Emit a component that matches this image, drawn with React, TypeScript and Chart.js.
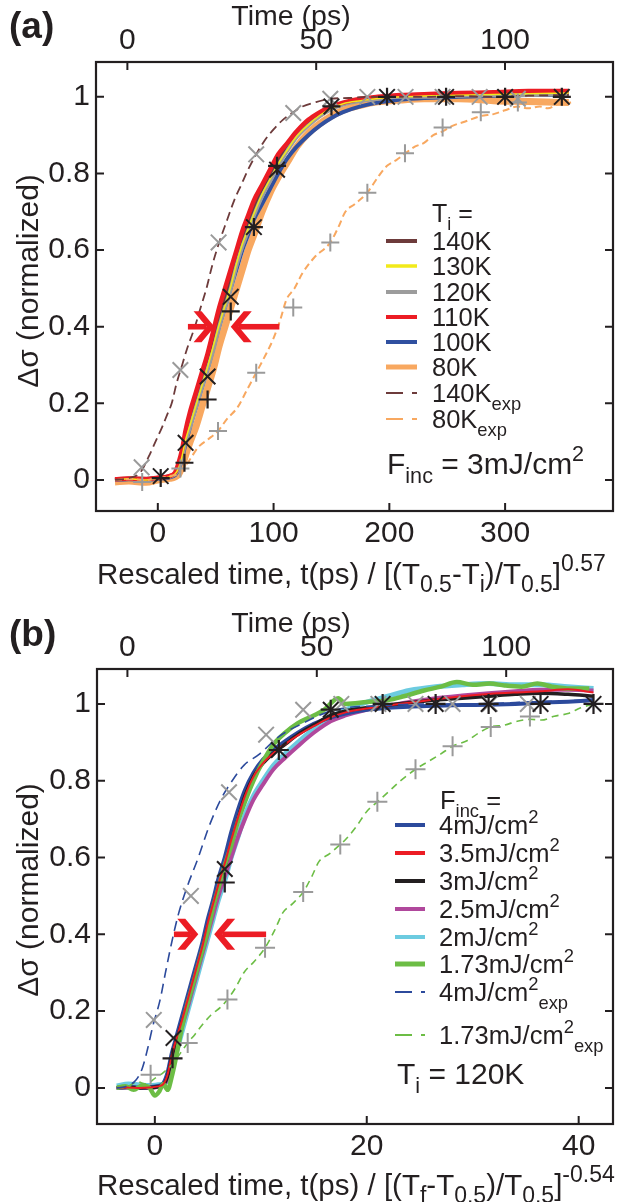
import React, { useEffect, useRef } from 'react';
import { Chart, registerables } from 'chart.js';
Chart.register(...registerables);

const FONT = '"Liberation Sans", Arial, Helvetica, sans-serif';
const INK = '#231f20';
const RED = '#ec1c24';
const GRAYM = '#9a9a9a';

// ---------- shared axis ticks ----------
const yTicks = [0, 0.2, 0.4, 0.6, 0.8, 1];
const yTickLabels = ['0', '0.2', '0.4', '0.6', '0.8', '1'];
const topTicks = [0, 50, 100];
const aBottomTicks = [0, 100, 200, 300];
const bBottomTicks = [0, 20, 40];

// ---------- panel (a) data ----------
const aX = [-37, -25, -10, 0, 10, 15, 18, 21, 24, 28, 33, 38, 43, 48, 53, 58, 63, 68, 73, 78, 83, 90, 97, 104, 112, 120, 130, 140, 150, 160, 175, 190, 210, 230, 260, 290, 320, 355];
const a140Y = [0.002, 0.004, 0.003, 0.006, 0.01, 0.018, 0.038, 0.07, 0.115, 0.16, 0.21, 0.26, 0.31, 0.365, 0.42, 0.47, 0.52, 0.575, 0.625, 0.665, 0.705, 0.755, 0.795, 0.835, 0.87, 0.902, 0.93, 0.955, 0.972, 0.983, 0.992, 0.997, 1.001, 1.003, 1.005, 1.007, 1.008, 1.01];
const a130Y = [0, 0.003, 0, 0.004, 0.008, 0.016, 0.032, 0.063, 0.105, 0.145, 0.195, 0.245, 0.295, 0.35, 0.405, 0.455, 0.505, 0.565, 0.615, 0.655, 0.695, 0.745, 0.785, 0.825, 0.862, 0.897, 0.927, 0.952, 0.97, 0.982, 0.99, 0.996, 1.0, 1.002, 1.004, 1.006, 1.008, 1.01];
const a120Y = [0, 0.003, 0, 0.004, 0.008, 0.015, 0.03, 0.06, 0.1, 0.14, 0.19, 0.24, 0.29, 0.34, 0.4, 0.45, 0.5, 0.56, 0.61, 0.65, 0.69, 0.74, 0.78, 0.82, 0.86, 0.895, 0.925, 0.95, 0.968, 0.98, 0.99, 0.995, 1.0, 1.0, 1.003, 1.005, 1.005, 1.008];
const a110Y = [0.002, 0.004, 0.002, 0.006, 0.01, 0.02, 0.045, 0.08, 0.13, 0.18, 0.23, 0.28, 0.33, 0.39, 0.45, 0.5, 0.55, 0.6, 0.65, 0.69, 0.73, 0.77, 0.81, 0.85, 0.88, 0.91, 0.94, 0.96, 0.975, 0.985, 0.995, 1.0, 1.005, 1.007, 1.01, 1.012, 1.015, 1.015];
const a100Y = [0, 0.002, 0, 0.003, 0.007, 0.013, 0.028, 0.055, 0.095, 0.14, 0.19, 0.24, 0.29, 0.345, 0.4, 0.45, 0.5, 0.55, 0.6, 0.64, 0.68, 0.72, 0.76, 0.8, 0.84, 0.87, 0.9, 0.925, 0.945, 0.96, 0.975, 0.985, 0.993, 0.997, 1.0, 1.003, 1.005, 1.006];
const a80Y = [-0.005, -0.003, -0.006, 0, 0.004, 0.008, 0.015, 0.035, 0.065, 0.1, 0.14, 0.19, 0.24, 0.29, 0.35, 0.4, 0.45, 0.5, 0.55, 0.6, 0.64, 0.7, 0.75, 0.79, 0.83, 0.87, 0.905, 0.93, 0.95, 0.965, 0.978, 0.987, 0.992, 0.995, 0.995, 0.99, 0.988, 0.985];

const a140ExpX = [-37, -25, -15, -8, -2, 4, 8, 12, 16, 20, 25, 32, 37, 42, 47, 53, 60, 66, 72, 78, 85, 92, 100, 108, 117, 125, 135, 149, 165, 180, 200, 230, 260, 290, 320, 355];
const a140ExpY = [0, 0.005, 0.02, 0.06, 0.1, 0.14, 0.17, 0.2, 0.25, 0.29, 0.34, 0.4, 0.45, 0.5, 0.56, 0.62, 0.68, 0.73, 0.77, 0.81, 0.85, 0.885, 0.915, 0.94, 0.96, 0.975, 0.985, 0.995, 0.997, 1.0, 1.0, 1.0, 1.002, 1.0, 1.003, 1.005];
const a80ExpX = [-37, -25, -10, 0, 10, 20, 27, 35, 43, 52, 60, 69, 77, 85, 92, 100, 106, 111, 118, 125, 135, 149, 156, 162, 170, 181, 190, 198, 206, 214, 222, 230, 238, 246, 255, 265, 279, 290, 300, 311, 320, 330, 337, 345, 357];
const a80ExpY = [0, 0.002, 0, 0.005, 0.01, 0.02, 0.05, 0.086, 0.105, 0.128, 0.16, 0.19, 0.235, 0.28, 0.32, 0.37, 0.42, 0.47, 0.5, 0.54, 0.58, 0.62, 0.66, 0.7, 0.72, 0.75, 0.79, 0.82, 0.835, 0.853, 0.87, 0.88, 0.9, 0.91, 0.925, 0.935, 0.95, 0.955, 0.965, 0.975, 0.97, 0.975, 0.97, 0.98, 0.985];

const aBlackCrossX = [2.5, 24, 43, 63, 83, 103, 150, 198, 249, 300, 349];
const aBlackCrossY = [0.01, 0.097, 0.27, 0.478, 0.66, 0.81, 0.975, 1.0, 1.0, 1.0, 1.0];
const aBlackPlusX = [2.5, 23, 43, 63, 83, 103, 150, 198, 249, 300, 349];
const aBlackPlusY = [0.005, 0.045, 0.21, 0.44, 0.66, 0.82, 0.975, 1.0, 1.0, 1.0, 1.0];
const aGrayCrossX = [-14, 19.5, 52.5, 85, 117, 149, 181, 214, 246, 278, 311];
const aGrayCrossY = [0.033, 0.287, 0.62, 0.85, 0.958, 0.995, 1.0, 1.0, 1.0, 1.0, 0.995];
const aGrayPlusX = [-13.5, 19.5, 52, 85, 117, 149, 181, 213.5, 246, 279, 311];
const aGrayPlusY = [-0.005, 0.03, 0.128, 0.28, 0.45, 0.62, 0.75, 0.853, 0.92, 0.96, 0.985];

// arrows (data coords): [y, rightArrowFrom, rightArrowTo, leftArrowFrom, leftArrowTo]
const aArrows = [0.4, 26, 49, 105, 63];

// ---------- panel (b) data ----------
const bX = [-3.6, -2.5, -1.5, -0.5, 0.3, 0.8, 1.2, 1.6, 2.0, 2.5, 3.0, 3.5, 4.0, 4.5, 5.0, 5.5, 6.0, 6.6, 7.2, 7.8, 8.5, 9.3, 10.2, 11.2, 12.3, 13.5, 15, 16.6, 18, 20, 22, 24, 26.5, 29, 31.5, 34, 36.4, 39, 41.4];
const b4Y = [0, 0.002, 0.001, 0.002, 0.005, 0.012, 0.04, 0.09, 0.13, 0.18, 0.23, 0.28, 0.33, 0.38, 0.44, 0.49, 0.545, 0.6, 0.665, 0.72, 0.775, 0.82, 0.855, 0.88, 0.903, 0.925, 0.948, 0.965, 0.975, 0.985, 0.99, 0.993, 0.995, 0.997, 0.998, 1.0, 1.003, 1.006, 1.01];
const b35Y = [0, 0.001, 0, 0.001, 0.004, 0.01, 0.035, 0.085, 0.125, 0.17, 0.22, 0.27, 0.32, 0.37, 0.43, 0.48, 0.53, 0.585, 0.645, 0.7, 0.76, 0.81, 0.845, 0.872, 0.895, 0.918, 0.942, 0.965, 0.978, 0.988, 0.996, 1.003, 1.012, 1.02, 1.026, 1.03, 1.033, 1.038, 1.03];
const b3Y = [0, 0.002, 0, 0.001, 0.003, 0.008, 0.03, 0.08, 0.12, 0.165, 0.21, 0.26, 0.31, 0.36, 0.42, 0.47, 0.52, 0.575, 0.635, 0.695, 0.76, 0.81, 0.845, 0.872, 0.895, 0.92, 0.945, 0.97, 0.982, 0.99, 0.997, 1.003, 1.01, 1.015, 1.02, 1.025, 1.028, 1.025, 1.02];
const b25Y = [0, 0.001, 0, 0, 0.003, 0.008, 0.025, 0.07, 0.11, 0.155, 0.2, 0.25, 0.3, 0.35, 0.4, 0.45, 0.5, 0.55, 0.6, 0.65, 0.7, 0.75, 0.79, 0.83, 0.86, 0.89, 0.925, 0.955, 0.97, 0.985, 0.995, 1.005, 1.015, 1.022, 1.028, 1.033, 1.037, 1.037, 1.035];
const b2Y = [0.005, 0.01, 0.008, 0.006, 0.008, 0.01, 0.02, 0.05, 0.09, 0.14, 0.19, 0.24, 0.29, 0.34, 0.39, 0.44, 0.49, 0.54, 0.6, 0.65, 0.71, 0.76, 0.8, 0.84, 0.87, 0.9, 0.935, 0.965, 0.985, 1.005, 1.02, 1.035, 1.045, 1.05, 1.053, 1.05, 1.05, 1.045, 1.04];
const b173X = [-3.6, -2.8, -2, -1.2, -0.5, 0, 0.4, 0.8, 1.2, 1.6, 2.0, 2.5, 3.0, 3.5, 4.0, 4.5, 5.0, 5.5, 6.0, 6.6, 7.2, 7.8, 8.5, 9.3, 10.2, 11.2, 12.3, 13.5, 15, 16, 17.3, 18, 20, 22, 23.5, 25.4, 27, 28.5, 30, 31.6, 33, 34.6, 36.1, 37.5, 39.2, 41];
const b173Y = [0, 0.004, -0.005, 0.006, 0.0, -0.02, -0.01, 0.01, -0.005, 0.03, 0.08, 0.15, 0.21, 0.26, 0.31, 0.36, 0.41, 0.47, 0.52, 0.58, 0.63, 0.69, 0.745, 0.8, 0.85, 0.895, 0.925, 0.95, 0.97, 0.985, 1.015, 1.0, 1.005, 1.01, 1.02, 1.035, 1.045, 1.057, 1.05, 1.053, 1.048, 1.045, 1.053, 1.045, 1.04, 1.04];

const b4ExpX = [-3.6, -2.8, -1.8, -1.2, -0.7, -0.2, 0.5, 1.0, 1.6, 2.2, 3.0, 4.1, 5.1, 6.2, 7.3, 8.4, 9.9, 11.7, 14, 16.4, 18, 21, 25, 30, 35, 41.4];
const b4ExpY = [0, 0.003, 0.02, 0.05, 0.1, 0.16, 0.23, 0.3, 0.38, 0.45, 0.52, 0.6, 0.68, 0.75, 0.8, 0.84, 0.87, 0.915, 0.95, 0.98, 0.99, 0.995, 1.0, 1.0, 1.005, 1.01];
const b173ExpX = [-3.6, -2.5, -1.7, -0.8, 0, 0.8, 1.6, 2.4, 3.1, 3.8, 4.5, 5.3, 6.2, 6.85, 7.6, 8.4, 9.4, 10.4, 11.3, 12.1, 13, 14, 14.8, 15.5, 16.5, 17.5, 18, 19, 20, 21, 22, 23.2, 24.6, 25.8, 27, 28.1, 29.5, 30.6, 31.7, 33, 34.2, 35.4, 36.5, 37.7, 39, 40.2, 41.4];
const b173ExpY = [0, 0.004, 0.016, 0.01, 0.025, 0.04, 0.06, 0.09, 0.117, 0.14, 0.165, 0.19, 0.21, 0.23, 0.26, 0.3, 0.33, 0.365, 0.41, 0.457, 0.48, 0.51, 0.55, 0.59, 0.61, 0.634, 0.647, 0.68, 0.72, 0.745, 0.77, 0.8, 0.83, 0.85, 0.87, 0.89, 0.905, 0.925, 0.94, 0.945, 0.955, 0.96, 0.958, 0.968, 0.975, 0.99, 1.0];

const bBlackCrossX = [1.76, 6.6, 11.7, 16.6, 21.5, 26.5, 31.5, 36.4, 41.4];
const bBlackCrossY = [0.13, 0.57, 0.88, 0.985, 1.0, 1.0, 1.0, 1.0, 1.0];
const bBlackPlusX = [1.67, 6.6, 11.7, 16.6, 21.5, 26.5, 31.5, 36.4, 41.4];
const bBlackPlusY = [0.077, 0.535, 0.88, 0.985, 1.0, 1.0, 1.0, 1.0, 1.0];
const bGrayCrossX = [-0.1, 3.4, 7.0, 10.5, 14, 17.6, 21.1, 24.6, 28.1, 31.6, 35.2];
const bGrayCrossY = [0.177, 0.5, 0.77, 0.92, 0.985, 1.0, 1.0, 1.0, 1.0, 1.0, 1.0];
const bGrayPlusX = [-0.4, 3.1, 6.85, 10.4, 14, 17.5, 21, 24.6, 28.1, 31.7, 35.4];
const bGrayPlusY = [0.034, 0.117, 0.23, 0.365, 0.51, 0.634, 0.745, 0.83, 0.89, 0.94, 0.967];

const bArrows = [0.4, 1.8, 4.1, 10.5, 5.6];

// ---------- legend labels ----------
type Seg = [string, ('sub' | 'sup')?];
const aLegendLabels: Seg[][] = [[['140K']], [['130K']], [['120K']], [['110K']], [['100K']], [['80K']], [['140K'], ['exp', 'sub']], [['80K'], ['exp', 'sub']]];
const aLegendColors = ['#6d3b3b', '#f2ea1a', '#9c9c9c', '#ec1c24', '#3050a0', '#f8a860', '#6d3b3b', '#f8a860'];
const bLegendLabels: Seg[][] = [
  [['4mJ/cm'], ['2', 'sup']], [['3.5mJ/cm'], ['2', 'sup']], [['3mJ/cm'], ['2', 'sup']], [['2.5mJ/cm'], ['2', 'sup']],
  [['2mJ/cm'], ['2', 'sup']], [['1.73mJ/cm'], ['2', 'sup']], [['4mJ/cm'], ['2', 'sup'], ['exp', 'sub']], [['1.73mJ/cm'], ['2', 'sup'], ['exp', 'sub']],
];
const bLegendColors = ['#2c4a9c', '#ec1c24', '#231f20', '#b0489c', '#6ccbe0', '#6cbd45', '#2c4a9c', '#6cbd45'];

const pts = (xs: number[], ys: number[]) => xs.map((x, i) => ({ x, y: ys[i] }));

function line(xs: number[], ys: number[], color: string, width: number, order: number, dash: number[] = []) {
  return {
    data: pts(xs, ys), showLine: true, borderColor: color, borderWidth: width, pointRadius: 0,
    fill: false, order, borderDash: dash, cubicInterpolationMode: 'monotone', borderJoinStyle: 'round', borderCapStyle: 'butt',
  };
}
function marks(xs: number[], ys: number[], style: string, color: string, radius: number, width: number, order: number) {
  return {
    data: pts(xs, ys), showLine: false, pointStyle: style, pointRadius: radius,
    pointBorderColor: color, pointBackgroundColor: color, pointBorderWidth: width, borderColor: color, order,
  };
}

function drawRich(ctx: CanvasRenderingContext2D, segs: Seg[], x: number, yMid: number, size: number, align = 'left', subScale = 0.72) {
  const base = yMid + size * 0.36;
  ctx.textBaseline = 'alphabetic';
  ctx.textAlign = 'left';
  const items = segs.map(([t, k]) => {
    const fs = k ? size * subScale : size;
    ctx.font = `${fs}px ${FONT}`;
    return { t, k, fs, w: ctx.measureText(t).width };
  });
  const total = items.reduce((s, it) => s + it.w, 0);
  let cx = align === 'center' ? x - total / 2 : align === 'right' ? x - total : x;
  for (const it of items) {
    ctx.font = `${it.fs}px ${FONT}`;
    const dy = it.k === 'sub' ? size * 0.3 : it.k === 'sup' ? -size * 0.42 : 0;
    ctx.fillText(it.t, cx, base + dy);
    cx += it.w;
  }
}

function drawArrow(ctx: CanvasRenderingContext2D, xFrom: number, xTo: number, y: number) {
  const dir = Math.sign(xTo - xFrom);
  ctx.fillStyle = RED;
  const notch = xTo - dir * 8;
  ctx.fillRect(Math.min(xFrom, notch), y - 2.8, Math.abs(notch - xFrom), 5.6);
  const P = [[0, 0], [-13, -15.5], [-21, -15.5], [-8, 0], [-21, 15.5], [-13, 15.5]];
  ctx.beginPath();
  P.forEach(([dx, dy], i) => {
    const px = xTo + dir * dx, py = y + dy;
    if (i) ctx.lineTo(px, py); else ctx.moveTo(px, py);
  });
  ctx.closePath();
  ctx.fill();
}

function frameAndTicks(ctx: CanvasRenderingContext2D, chart: any, bottomTicks: number[]) {
  const a = chart.chartArea;
  const sx = chart.scales.x, sx2 = chart.scales.x2, sy = chart.scales.y;
  ctx.strokeStyle = INK;
  ctx.lineWidth = 2;
  ctx.setLineDash([]);
  ctx.beginPath();
  bottomTicks.forEach(v => { const p = sx.getPixelForValue(v); ctx.moveTo(p, a.bottom); ctx.lineTo(p, a.bottom - 8); });
  topTicks.forEach(v => { const p = sx2.getPixelForValue(v); ctx.moveTo(p, a.top); ctx.lineTo(p, a.top + 8); });
  yTicks.forEach(v => {
    const p = sy.getPixelForValue(v);
    ctx.moveTo(a.left, p); ctx.lineTo(a.left + 8, p);
    ctx.moveTo(a.right, p); ctx.lineTo(a.right - 8, p);
  });
  ctx.stroke();
  ctx.lineWidth = 2.2;
  ctx.strokeRect(a.left, a.top, a.right - a.left, a.bottom - a.top);
}

function legendRows(ctx: CanvasRenderingContext2D, labels: Seg[][], colors: string[], widths: number[], dashed: boolean[], rows: number[], x1: number, x2: number, tx: number, size: number) {
  labels.forEach((lab, i) => {
    ctx.strokeStyle = colors[i];
    ctx.lineWidth = widths[i];
    ctx.setLineDash(dashed[i] ? [17, 9] : []);
    ctx.beginPath(); ctx.moveTo(x1, rows[i]); ctx.lineTo(x2, rows[i]); ctx.stroke();
    ctx.setLineDash([]);
    ctx.fillStyle = INK;
    drawRich(ctx, lab, tx, rows[i], size);
  });
}

function scalesFor(xMin: number, xMax: number, yMin: number, yMax: number, bottomTicks: number[], t2Min: number, t2Max: number, sizes: number[], pads: number[]) {
  const tickFont = { family: FONT, size: 30 };
  const common = { grid: { display: false, drawTicks: false }, border: { display: false } };
  return {
    x: {
      type: 'linear', position: 'bottom', min: xMin, max: xMax, ...common,
      afterBuildTicks: (s: any) => { s.ticks = bottomTicks.map(v => ({ value: v })); },
      afterFit: (s: any) => { s.height = sizes[0]; },
      ticks: { font: tickFont, color: INK, padding: pads[0], autoSkip: false, maxRotation: 0, callback: (v: number) => String(v) },
    },
    x2: {
      type: 'linear', axis: 'x', position: 'top', min: t2Min, max: t2Max, ...common,
      afterBuildTicks: (s: any) => { s.ticks = topTicks.map(v => ({ value: v })); },
      afterFit: (s: any) => { s.height = sizes[1]; },
      ticks: { font: tickFont, color: INK, padding: pads[1], autoSkip: false, maxRotation: 0, callback: (v: number) => String(v) },
    },
    y: {
      type: 'linear', position: 'left', min: yMin, max: yMax, ...common,
      afterBuildTicks: (s: any) => { s.ticks = yTicks.map(v => ({ value: v })); },
      afterFit: (s: any) => { s.width = sizes[2]; },
      ticks: {
        font: tickFont, color: INK, padding: 6, autoSkip: false,
        callback: (v: number) => { const i = yTicks.findIndex(t => Math.abs(t - v) < 1e-9); return i >= 0 ? yTickLabels[i] : ''; },
      },
    },
  };
}

const baseOptions = {
  responsive: false, maintainAspectRatio: false, animation: false, devicePixelRatio: 1, events: [],
  layout: { padding: { left: 0, right: 3, top: 0, bottom: 0 } },
  plugins: { legend: { display: false }, tooltip: { enabled: false } },
};

function commonText(ctx: CanvasRenderingContext2D, label: string, labelY: number, titleY: number, bottomTitle: Seg[], bottomY: number, yTitleY: number) {
  ctx.fillStyle = INK;
  ctx.font = `bold 37px ${FONT}`;
  ctx.textBaseline = 'middle';
  ctx.textAlign = 'left';
  ctx.fillText(label, 9, labelY);
  drawRich(ctx, [['Time (ps)']], 291, titleY, 28.5, 'center');
  drawRich(ctx, bottomTitle, 97, bottomY, 29.5, 'left', 0.78);
  ctx.save();
  ctx.translate(27, yTitleY);
  ctx.rotate(-Math.PI / 2);
  drawRich(ctx, [['\u0394\u03c3 (normalized)']], 0, 0, 30, 'center');
  ctx.restore();
}

export default function App() {
  const refA = useRef<HTMLCanvasElement>(null);
  const refB = useRef<HTMLCanvasElement>(null);

  useEffect(() => {
    const decorA = {
      id: 'decorA',
      afterDraw(chart: any) {
        const ctx = chart.ctx as CanvasRenderingContext2D;
        ctx.save();
        const sx = chart.scales.x, sy = chart.scales.y;
        const [ay, r1, r2, l1, l2] = aArrows;
        const yp = sy.getPixelForValue(ay);
        drawArrow(ctx, sx.getPixelForValue(r1), sx.getPixelForValue(r2), yp);
        drawArrow(ctx, sx.getPixelForValue(l1), sx.getPixelForValue(l2), yp);
        frameAndTicks(ctx, chart, aBottomTicks);
        commonText(ctx, '(a)', 28, 15,
          [['Rescaled time, t(ps) / [(T'], ['0.5', 'sub'], ['-T'], ['i', 'sub'], [')/T'], ['0.5', 'sub'], [']'], ['0.57', 'sup']], 573, 281);
        ctx.fillStyle = INK;
        drawRich(ctx, [['T'], ['i', 'sub'], [' =']], 432, 213, 25);
        legendRows(ctx, aLegendLabels, aLegendColors, [4, 3.5, 4, 4, 4, 5, 2, 2],
          [false, false, false, false, false, false, true, true],
          [241, 266, 292, 317, 342, 367, 393, 419], 386, 417, 432, 25.5);
        ctx.fillStyle = INK;
        drawRich(ctx, [['F'], ['inc', 'sub'], [' = 3mJ/cm'], ['2', 'sup']], 387, 463, 30);
        ctx.restore();
      },
    };
    const decorB = {
      id: 'decorB',
      afterDraw(chart: any) {
        const ctx = chart.ctx as CanvasRenderingContext2D;
        ctx.save();
        const sx = chart.scales.x, sy = chart.scales.y;
        const [ay, r1, r2, l1, l2] = bArrows;
        const yp = sy.getPixelForValue(ay);
        drawArrow(ctx, sx.getPixelForValue(r1), sx.getPixelForValue(r2), yp);
        drawArrow(ctx, sx.getPixelForValue(l1), sx.getPixelForValue(l2), yp);
        frameAndTicks(ctx, chart, bBottomTicks);
        commonText(ctx, '(b)', 32, 18,
          [['Rescaled time, t(ps) / [(T'], ['f', 'sub'], ['-T'], ['0.5', 'sub'], [')/T'], ['0.5', 'sub'], [']'], ['-0.54', 'sup']], 580, 286);
        ctx.fillStyle = INK;
        drawRich(ctx, [['F'], ['inc', 'sub'], [' =']], 440, 196, 25.5);
        legendRows(ctx, bLegendLabels, bLegendColors, [4, 4, 4, 4, 4, 5, 2, 2],
          [false, false, false, false, false, false, true, true],
          [221, 249, 277, 305, 333, 360, 388, 431], 395, 425, 439, 25.5);
        ctx.fillStyle = INK;
        drawRich(ctx, [['T'], ['i', 'sub'], [' = 120K']], 397, 469, 30);
        ctx.restore();
      },
    };

    const chartA = new Chart(refA.current!, {
      type: 'scatter',
      data: {
        datasets: [
          line(aX, a80Y, '#f8a860', 7, 20),
          line(aX, a100Y, '#3050a0', 4, 19),
          line(aX, a140Y, '#6d3b3b', 4, 18),
          line(aX, a120Y, '#9c9c9c', 4, 17),
          line(aX, a110Y, '#ec1c24', 4.5, 16),
          line(aX, a130Y, '#f2ea1a', 1.5, 15),
          line(a80ExpX, a80ExpY, '#f8a860', 2, 14, [7, 4]),
          line(a140ExpX, a140ExpY, '#6d3b3b', 1.8, 13, [9, 5]),
          marks(aGrayCrossX, aGrayCrossY, 'crossRot', GRAYM, 11, 2, 4),
          marks(aGrayPlusX, aGrayPlusY, 'cross', GRAYM, 9, 2, 3),
          marks(aBlackCrossX, aBlackCrossY, 'crossRot', INK, 11, 2, 2),
          marks(aBlackPlusX, aBlackPlusY, 'cross', INK, 9, 2.2, 1),
        ] as any,
      },
      options: { ...baseOptions, scales: scalesFor(-53.4, 393.2, -0.081, 1.091, aBottomTicks, -8.31, 128.6, [93, 62, 96], [5, 3]) } as any,
      plugins: [decorA],
    });

    const chartB = new Chart(refB.current!, {
      type: 'scatter',
      data: {
        datasets: [
          line(bX, b2Y, '#6ccbe0', 5, 20),
          line(bX, b25Y, '#b0489c', 4, 19),
          line(bX, b4Y, '#2c4a9c', 4, 18),
          line(bX, b3Y, '#231f20', 3.5, 17),
          line(b173X, b173Y, '#6cbd45', 4.5, 16),
          line(bX, b35Y, '#ec1c24', 2, 15),
          line(b173ExpX, b173ExpY, '#6cbd45', 1.6, 14, [7, 5]),
          line(b4ExpX, b4ExpY, '#2c4a9c', 1.6, 13, [10, 6]),
          marks(bGrayCrossX, bGrayCrossY, 'crossRot', GRAYM, 11, 2, 4),
          marks(bGrayPlusX, bGrayPlusY, 'cross', GRAYM, 10, 2, 3),
          marks(bBlackCrossX, bBlackCrossY, 'crossRot', INK, 11, 2, 2),
          marks(bBlackPlusX, bBlackPlusY, 'cross', INK, 10, 2.2, 1),
        ] as any,
      },
      options: { ...baseOptions, scales: scalesFor(-5.46, 43.24, -0.094, 1.091, bBottomTicks, -8.03, 128.2, [78, 65, 97], [5, 3]) } as any,
      plugins: [decorB],
    });

    return () => { chartA.destroy(); chartB.destroy(); };
  }, []);

  return (
    <div style={{ position: 'absolute', left: 0, top: 0, width: 626, height: 1202, background: '#fff' }}>
      <canvas ref={refA} width={626} height={604} style={{ display: 'block', width: 626, height: 604 }} />
      <canvas ref={refB} width={626} height={598} style={{ display: 'block', width: 626, height: 598 }} />
    </div>
  );
}
